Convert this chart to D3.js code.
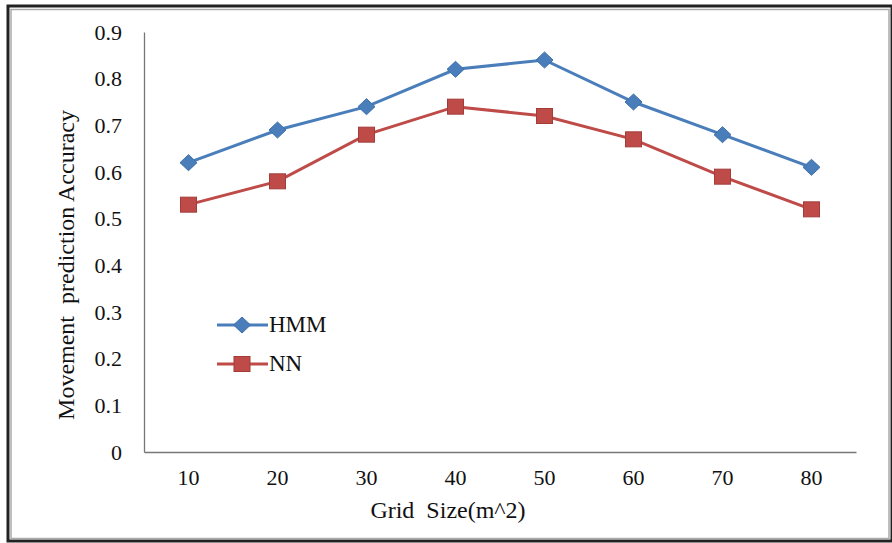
<!DOCTYPE html>
<meta charset="utf-8">
<style>
  body { margin: 0; background: #fff; }
  .line { fill: none; stroke-width: 3px; }
</style>
<body>
<script src="https://d3js.org/d3.v7.min.js"></script>
<script>

// chart data
var gridSizes = ["10", "20", "30", "40", "50", "60", "70", "80"];
var hmm = [0.62, 0.69, 0.74, 0.82, 0.84, 0.75, 0.68, 0.61];
var nn = [0.53, 0.58, 0.68, 0.74, 0.72, 0.67, 0.59, 0.52];
var yTicks = [0, 0.1, 0.2, 0.3, 0.4, 0.5, 0.6, 0.7, 0.8, 0.9];

var serif = "'Liberation Serif', Tinos, 'Times New Roman', 'DejaVu Serif', serif";

var W = 892, H = 543;
var margin = {top: 32, right: 36, bottom: 91, left: 144},
    width = W - margin.left - margin.right,
    height = H - margin.top - margin.bottom;

var svg = d3.select("body").append("svg")
    .attr("width", W)
    .attr("height", H)
    .style("font-family", serif);

// outer frame
svg.append("rect")
    .attr("x", 8).attr("y", 6).attr("width", W - 8).attr("height", H - 8)
    .attr("fill", "none").attr("stroke", "#222").attr("stroke-width", 3);
svg.append("rect")
    .attr("x", 11).attr("y", 9.5).attr("width", W - 14).attr("height", H - 14)
    .attr("fill", "none").attr("stroke", "#aaa").attr("stroke-width", 1.5);

var g = svg.append("g")
    .attr("transform", "translate(" + margin.left + "," + margin.top + ")");

var x = d3.scaleBand().domain(gridSizes).range([0, width]);
var y = d3.scaleLinear().domain([0, 0.9]).range([height, 0]);

// axes
var yAxis = g.append("g")
    .call(d3.axisLeft(y).tickValues(yTicks).tickSize(0).tickPadding(22)
      .tickFormat(function(d) { return d === 0 ? "0" : d3.format(".1f")(d); }));
yAxis.attr("font-family", null);
yAxis.select(".domain").attr("stroke", "#777").attr("stroke-width", 1.3);
yAxis.selectAll("text").style("font-family", serif).style("font-size", "22px").attr("fill", "#111");

var xAxis = g.append("g")
    .attr("transform", "translate(0," + height + ")")
    .call(d3.axisBottom(x).tickSize(0).tickPadding(17));
xAxis.attr("font-family", null);
xAxis.select(".domain").attr("stroke", "#777").attr("stroke-width", 1.3);
xAxis.selectAll("text").style("font-family", serif).style("font-size", "22px").attr("fill", "#111");

// axis titles
svg.append("text")
    .attr("transform", "translate(74,265) rotate(-90)")
    .attr("text-anchor", "middle")
    .style("font-family", serif)
    .style("font-size", "24px")
    .attr("fill", "#111")
    .text("Movement\u00a0 prediction Accuracy");

svg.append("text")
    .attr("x", 448)
    .attr("y", 518)
    .attr("text-anchor", "middle")
    .style("font-family", serif)
    .style("font-size", "24px")
    .attr("fill", "#111")
    .text("Grid\u00a0 Size(m^2)");

var cx = function(i) { return x(gridSizes[i]) + x.bandwidth() / 2; };

var series = [
  {name: "HMM", values: hmm, color: "#4a7ebb", stroke: "#3f6fa8", shape: "diamond"},
  {name: "NN", values: nn, color: "#be4b48", stroke: "#a33d3a", shape: "square"}
];

var line = d3.line()
    .x(function(d, i) { return cx(i); })
    .y(function(d) { return y(d); });

function marker(sel, s) {
  if (s.shape === "diamond") {
    sel.append("path")
        .attr("d", "M0,-8L8.5,0L0,8L-8.5,0Z")
        .attr("fill", s.color).attr("stroke", s.stroke).attr("stroke-width", 1);
  } else {
    sel.append("rect")
        .attr("x", -8).attr("y", -7.5).attr("width", 16).attr("height", 15)
        .attr("fill", s.color).attr("stroke", s.stroke).attr("stroke-width", 1);
  }
}

series.forEach(function(s) {
  g.append("path")
      .datum(s.values)
      .attr("class", "line")
      .attr("stroke", s.color)
      .attr("d", line);

  g.selectAll(".pt-" + s.name)
      .data(s.values)
    .enter().append("g")
      .attr("transform", function(d, i) { return "translate(" + cx(i) + "," + y(d) + ")"; })
      .each(function() { marker(d3.select(this), s); });
});

// legend
var legend = svg.append("g").attr("transform", "translate(217,325)");
series.forEach(function(s, i) {
  var row = legend.append("g").attr("transform", "translate(0," + (i * 39) + ")");
  row.append("line")
      .attr("x1", 0).attr("x2", 51)
      .attr("stroke", s.color).attr("stroke-width", 3);
  var m = row.append("g").attr("transform", "translate(25,0)");
  marker(m, s);
  row.append("text")
      .attr("x", 52).attr("y", 7)
      .style("font-family", serif)
      .style("font-size", "23px")
      .attr("fill", "#111")
      .text(s.name);
});

</script>
</body>
